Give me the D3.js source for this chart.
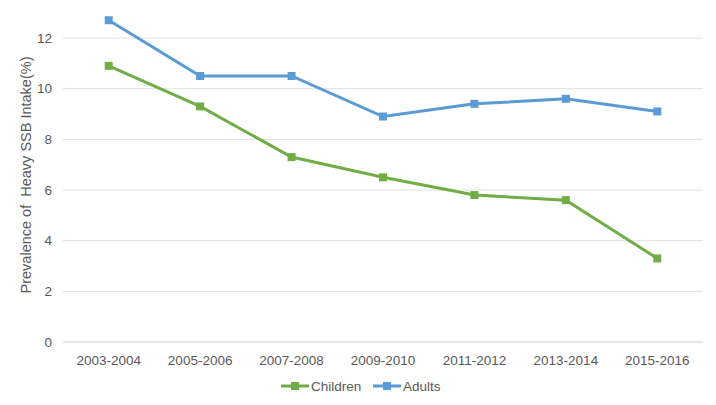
<!DOCTYPE html>
<html>
<head>
<meta charset="utf-8">
<script src="https://cdn.jsdelivr.net/npm/d3@7"></script>
<style>
  body { margin: 0; background: #fff; }
  text { font-family: "Liberation Sans", Arial, sans-serif; fill: #595959; }
</style>
</head>
<body>
<div id="chart"></div>
<script>
// datos
const periodos = ["2003-2004", "2005-2006", "2007-2008", "2009-2010", "2011-2012", "2013-2014", "2015-2016"];
const children = [10.9, 9.3, 7.3, 6.5, 5.8, 5.6, 3.3];
const adults = [12.7, 10.5, 10.5, 8.9, 9.4, 9.6, 9.1];
const yTicks = [0, 2, 4, 6, 8, 10, 12];
const seriesNames = ["Children", "Adults"];
const seriesColors = ["#70AD47", "#5B9BD5"];

const WIDTH = 716;
const HEIGHT = 405;
const MARGIN = { top: 38, bottom: 63, left: 63, right: 13 };

const svg = d3.select("#chart").append("svg").attr("width", WIDTH).attr("height", HEIGHT);

// Escalas
const x = d3.scaleBand().domain(periodos).range([MARGIN.left, WIDTH - MARGIN.right]);
const y = d3.scaleLinear().domain([0, 12]).range([HEIGHT - MARGIN.bottom, MARGIN.top]);

// Grilla
svg.append("g").selectAll("line").data(yTicks).join("line")
  .attr("x1", MARGIN.left).attr("x2", WIDTH - MARGIN.right)
  .attr("y1", d => y(d)).attr("y2", d => y(d))
  .attr("stroke", d => d === 0 ? "#d0d0d0" : "#e0e0e0").attr("stroke-width", 1);

// Eje Y
const yAxis = svg.append("g").attr("transform", `translate(${MARGIN.left - 11},0)`)
  .call(d3.axisLeft(y).tickValues(yTicks).tickSize(0).tickPadding(0));
yAxis.select(".domain").remove();
yAxis.selectAll("text").attr("font-size", 13.5).attr("fill", "#595959");

// Eje X
const xAxis = svg.append("g").attr("transform", `translate(0,${y(0)})`)
  .call(d3.axisBottom(x).tickSize(0).tickPadding(13));
xAxis.select(".domain").remove();
xAxis.selectAll("text").attr("font-size", 13.5).attr("fill", "#595959");

// Titulo eje Y
svg.append("text")
  .attr("transform", `translate(31,175) rotate(-90)`)
  .attr("text-anchor", "middle").attr("font-size", 14.5)
  .style("white-space", "pre")
  .text("Prevalence of  Heavy SSB Intake(%)");

// Lineas
const series = [children, adults];
const line = d3.line().x((d, i) => x(periodos[i]) + x.bandwidth() / 2).y(d => y(d));

series.forEach((vals, k) => {
  svg.append("path").datum(vals).attr("d", line)
    .attr("fill", "none").attr("stroke", seriesColors[k]).attr("stroke-width", 3);
  svg.selectAll(".m" + k).data(vals).join("rect").attr("class", "m" + k)
    .attr("x", (d, i) => x(periodos[i]) + x.bandwidth() / 2 - 4)
    .attr("y", d => y(d) - 4)
    .attr("width", 8).attr("height", 8)
    .attr("fill", seriesColors[k]);
});

// Leyenda
const legX = [281, 373];
const leg = svg.selectAll(".leg").data(seriesNames).join("g").attr("class", "leg")
  .attr("transform", (d, i) => `translate(${legX[i]},386)`);
leg.append("line").attr("x1", 0).attr("x2", 28).attr("stroke", (d, i) => seriesColors[i]).attr("stroke-width", 3);
leg.append("rect").attr("x", 10).attr("y", -4).attr("width", 8).attr("height", 8).attr("fill", (d, i) => seriesColors[i]);
leg.append("text").attr("x", 30).attr("y", 5).attr("font-size", 13.5).text(d => d);
</script>
</body>
</html>
